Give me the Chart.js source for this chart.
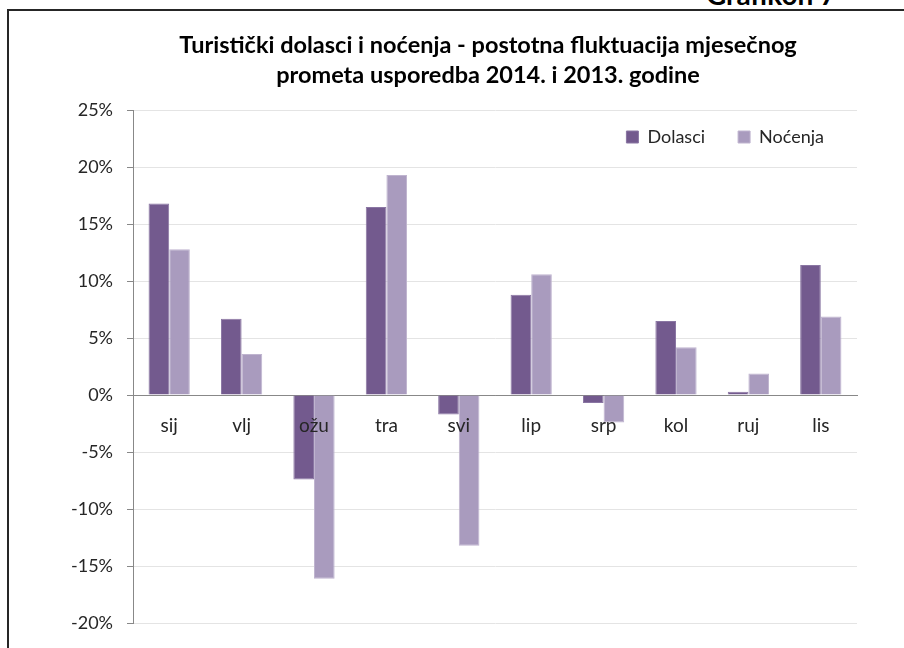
<!DOCTYPE html>
<html>
<head>
<meta charset="utf-8">
<script src="https://cdn.jsdelivr.net/npm/chart.js@4/dist/chart.umd.min.js"></script>
<style>
    html, body {margin: 0; padding: 0; background: #fff; overflow: hidden;}
    #page {position: relative; width: 904px; height: 648px; overflow: hidden;}
    #frame {position: absolute; left: 7px; top: 9px; width: 2000px; height: 2000px;
        border-left: 2px solid #262626; border-top: 2px solid #262626;}
    #caption {position: absolute; left: 706px; top: -20px; font: bold 28px Lato, sans-serif;
        line-height: 28px; color: #000; white-space: nowrap;}
    #chart {position: absolute; left: 0; top: 0;}
</style>
</head>
<body>
<div id="page">
    <div id="frame"></div>
    <div id="caption">Grafikon 7</div>
    <canvas id="chart" width="904" height="648"></canvas>
</div>
<script>
const months = ['sij', 'vlj', 'ožu', 'tra', 'svi', 'lip', 'srp', 'kol', 'ruj', 'lis'];
const dolasci = [16.8, 6.7, -7.4, 16.5, -1.7, 8.8, -0.7, 6.5, 0.3, 11.4];
const nocenja = [12.8, 3.6, -16.1, 19.3, -13.2, 10.6, -2.4, 4.2, 1.9, 6.9];
const seriesNames = ['Dolasci', 'Noćenja'];
const titleLines = [
    'Turistički dolasci i noćenja - postotna fluktuacija mjesečnog',
    'prometa usporedba 2014. i 2013. godine'
];
const yMin = -20;
const yMax = 25;
const yStep = 5;

const fontFamily = 'Lato, sans-serif';
const textColor = '#262626';

// legenda (maxHeight 1) ne zauzima mjesto, pa je spuštamo unutar područja grafa
const legendInside = {
    id: 'legendInside',
    afterLayout: chart => {
        const area = chart.chartArea;
        const legend = chart.legend;
        legend.top = area.top - 15;
        legend.bottom = legend.top + 70;

        // naslov centriran malo lijevo od sredine područja grafa
        const title = chart.titleBlock;
        title.left = area.left - 14;
        title.right = area.right;
    }
};

const ctx = document.getElementById('chart').getContext('2d');

new Chart(ctx, {
    type: 'bar',
    data: {
        labels: months,
        datasets: [
            {label: seriesNames[0], data: dolasci, backgroundColor: '#735a8e', borderColor: '#8a76a3', borderWidth: 1},
            {label: seriesNames[1], data: nocenja, backgroundColor: '#a99bbe', borderColor: '#bfb4cf', borderWidth: 1}
        ]
    },
    options: {
        responsive: false,
        animation: false,
        devicePixelRatio: 1,
        layout: {padding: {left: 0, right: 47, top: 0, bottom: 21}},
        datasets: {bar: {categoryPercentage: 0.57, barPercentage: 1.0}},
        scales: {
            x: {
                position: {y: 0},
                grid: {display: false, drawTicks: false},
                border: {display: true, color: '#888', width: 1},
                ticks: {z: 1, padding: 19, color: textColor, font: {family: fontFamily, size: 19}},
                afterFit: scale => { scale.height = 0; }
            },
            y: {
                min: yMin,
                max: yMax,
                grid: {
                    color: c => (c.tick && c.tick.value === 0) ? '#888' : '#e4e4e4',
                    tickColor: '#888',
                    tickLength: 6
                },
                border: {display: true, color: '#888', width: 1},
                ticks: {
                    stepSize: yStep,
                    padding: 14,
                    color: textColor,
                    font: {family: fontFamily, size: 18},
                    callback: v => v + '%'
                },
                afterFit: scale => { scale.width = 133; }
            }
        },
        plugins: {
            title: {
                display: true,
                text: titleLines,
                color: '#000',
                font: {family: fontFamily, size: 23.5, weight: 'bold', lineHeight: '30px'},
                padding: {top: 30, bottom: 19}
            },
            legend: {
                position: 'top',
                align: 'end',
                maxHeight: 1,
                labels: {
                    boxWidth: 12,
                    boxHeight: 12,
                    padding: 33,
                    color: textColor,
                    font: {family: fontFamily, size: 18}
                }
            },
            tooltip: {enabled: false}
        }
    },
    plugins: [legendInside]
});
</script>
</body>
</html>
